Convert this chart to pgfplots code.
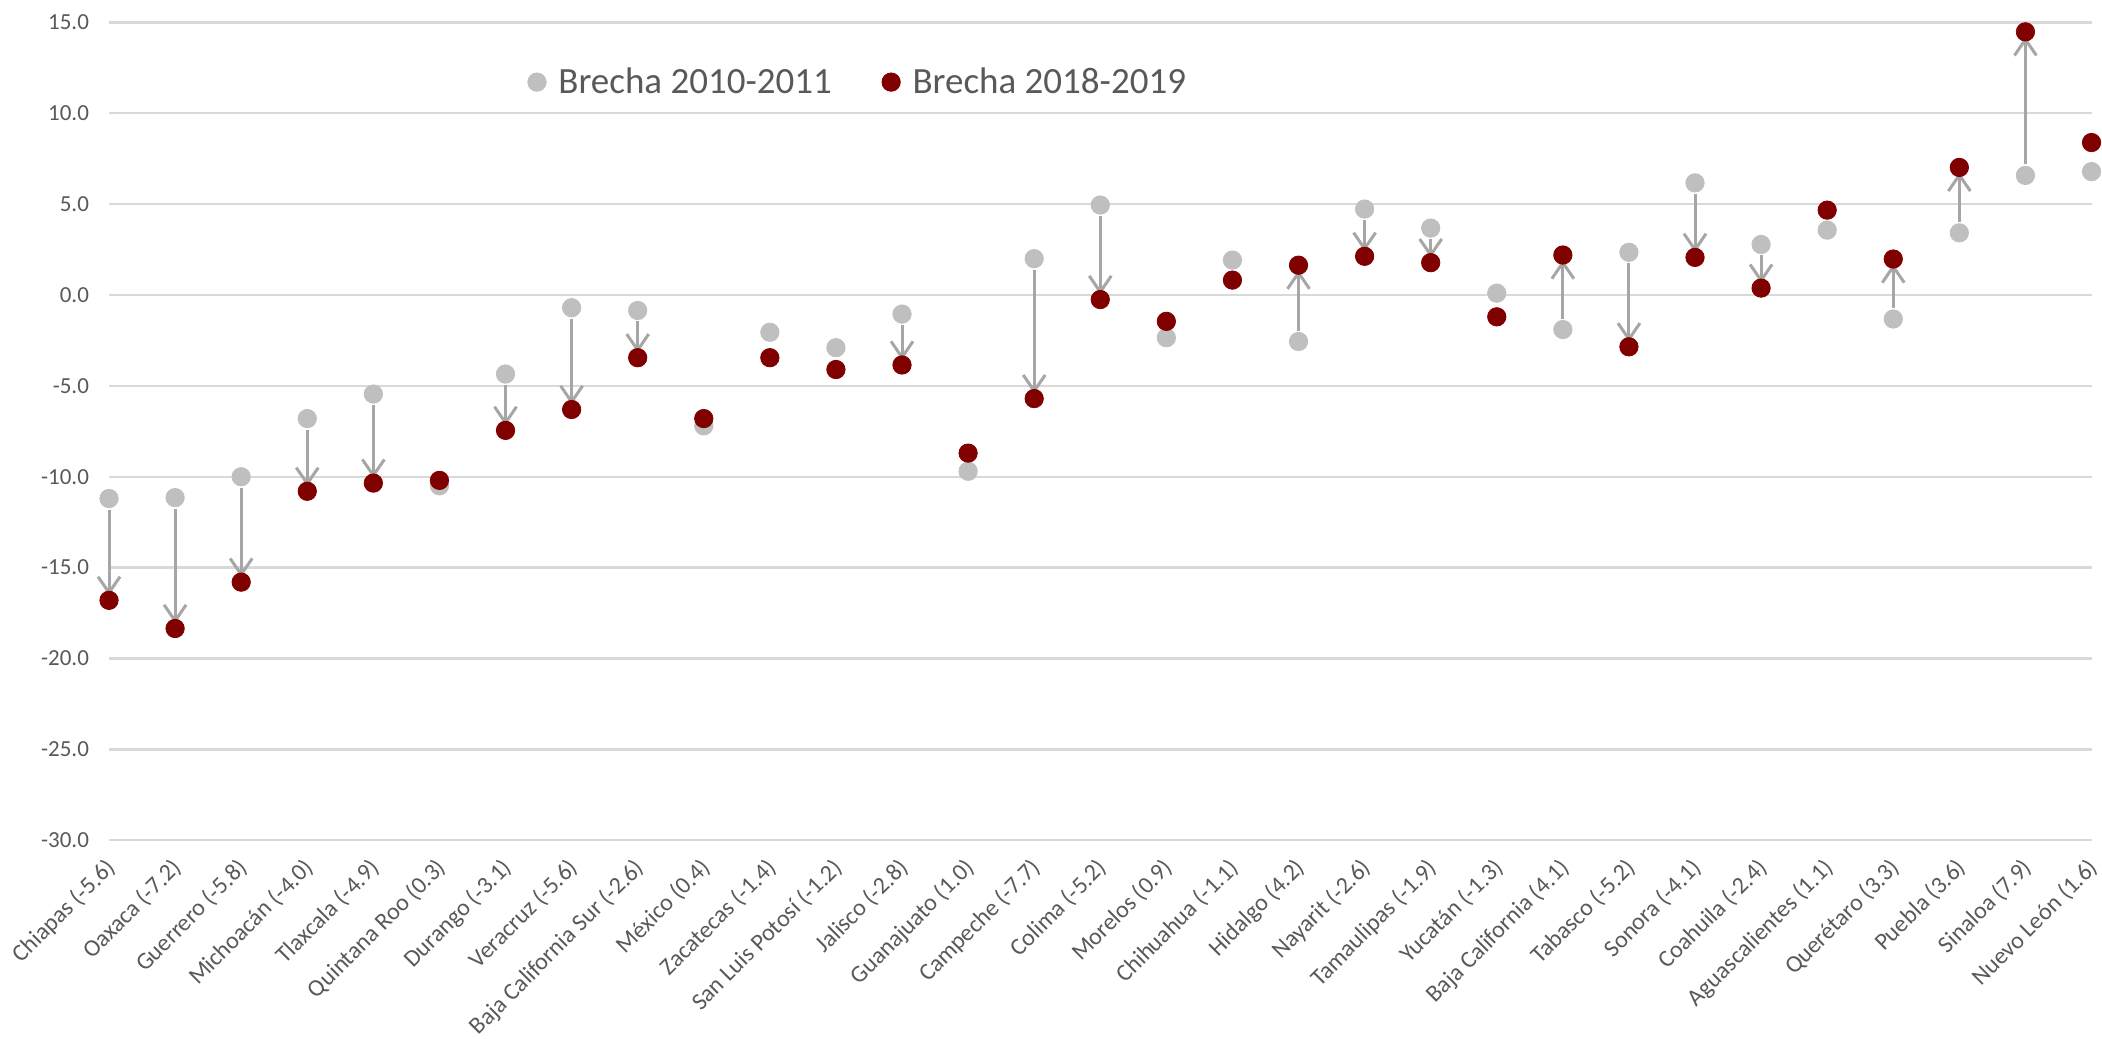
\documentclass[border=0pt]{standalone}
\usepackage{fontspec}
\setmainfont{Carlito}
\usepackage{pgfplots}
\pgfplotsset{compat=1.18}
\usepackage{pgfplotstable}
\usetikzlibrary{arrows.meta}
\definecolor{txt}{HTML}{595959}
\definecolor{gridc}{HTML}{D9D9D9}
\definecolor{oldc}{HTML}{BFBFBF}
\definecolor{newc}{HTML}{800000}
\definecolor{arrc}{HTML}{A6A6A6}

% x: state index, g: brecha 2010-2011, r: brecha 2018-2019, a: arrow drawn
\pgfplotstableread{
x g r a
0 -11.2 -16.8 1
1 -11.15 -18.35 1
2 -10.0 -15.8 1
3 -6.8 -10.8 1
4 -5.45 -10.35 1
5 -10.5 -10.2 0
6 -4.35 -7.45 1
7 -0.7 -6.3 1
8 -0.85 -3.45 1
9 -7.2 -6.8 0
10 -2.05 -3.45 0
11 -2.9 -4.1 0
12 -1.05 -3.85 1
13 -9.7 -8.7 0
14 2.0 -5.7 1
15 4.95 -0.25 1
16 -2.35 -1.45 0
17 1.92 0.82 0
18 -2.56 1.64 1
19 4.73 2.13 1
20 3.68 1.78 1
21 0.1 -1.2 0
22 -1.9 2.2 1
23 2.35 -2.85 1
24 6.17 2.07 1
25 2.78 0.38 1
26 3.57 4.67 0
27 -1.32 1.98 1
28 3.42 7.02 1
29 6.58 14.48 1
30 6.79 8.39 0
}\datatable

\begin{document}
\begin{tikzpicture}
\path[use as bounding box] (-54.5pt,-99pt) rectangle (996.25pt,420pt);
\begin{axis}[
  at={(0pt,0pt)}, anchor=south west,
  scale only axis, width=991pt, height=408.8pt,
  xmin=0, xmax=30, ymin=-30, ymax=15,
  clip=false,
  axis line style={draw=none},
  major tick length=0pt,
  ytick={-30,-25,...,15},
  ymajorgrids,
  grid style={gridc, line width=1.2pt},
  xtick={0,...,30},
  xticklabels={Chiapas (-5.6), Oaxaca (-7.2), Guerrero (-5.8), Michoacán (-4.0), Tlaxcala (-4.9), Quintana Roo (0.3), Durango (-3.1), Veracruz (-5.6), Baja California Sur (-2.6), México (0.4), Zacatecas (-1.4), San Luis Potosí (-1.2), Jalisco (-2.8), Guanajuato (1.0), Campeche (-7.7), Colima (-5.2), Morelos (0.9), Chihuahua (-1.1), Hidalgo (4.2), Nayarit (-2.6), Tamaulipas (-1.9), Yucatán (-1.3), Baja California (4.1), Tabasco (-5.2), Sonora (-4.1), Coahuila (-2.4), Aguascalientes (1.1), Querétaro (3.3), Puebla (3.6), Sinaloa (7.9), Nuevo León (1.6)},
  xticklabel style={xshift=-2.5pt, yshift=-8pt, rotate=45, anchor=north east, inner sep=0pt,
    font=\fontsize{12}{14}\selectfont, text=txt},
  yticklabel style={font=\fontsize{11.5}{14}\selectfont, text=txt, xshift=-6.5pt},
  /pgf/number format/assume math mode=true,
  yticklabel={\pgfmathprintnumber[fixed, fixed zerofill, precision=1]{\tick}},
  legend columns=2,
  legend style={draw=none, fill=none, at={(0.208,0.927)}, anchor=west,
    font=\fontsize{18.5}{22}\selectfont, text=txt,
    /tikz/every even column/.append style={column sep=23pt}},
  legend image code/.code={\draw[#1] plot coordinates {(4pt,0pt)}; \path (12.5pt,0pt);},
]
\addplot[oldc, only marks, mark=*, mark size=4.6pt, mark options={draw=oldc, fill=oldc}]
  table[x=x, y=g] {\datatable};
\addplot[newc, only marks, mark=*, mark size=4.6pt, mark options={draw=newc, fill=newc}]
  table[x=x, y=r] {\datatable};
\addplot[forget plot, no markers, arrc, line width=1.5pt,
  -{Straight Barb[length=8pt, width=11pt]},
  restrict expr to domain={\thisrow{a}}{0.5:1.5},
  quiver={u=0, v=\thisrow{r}-\thisrow{g},
    every arrow/.append style={shorten <=5.5pt, shorten >=2.5pt}}]
  table[x=x, y=g] {\datatable};
\legend{Brecha 2010-2011, Brecha 2018-2019}
\end{axis}
\end{tikzpicture}
\end{document}
